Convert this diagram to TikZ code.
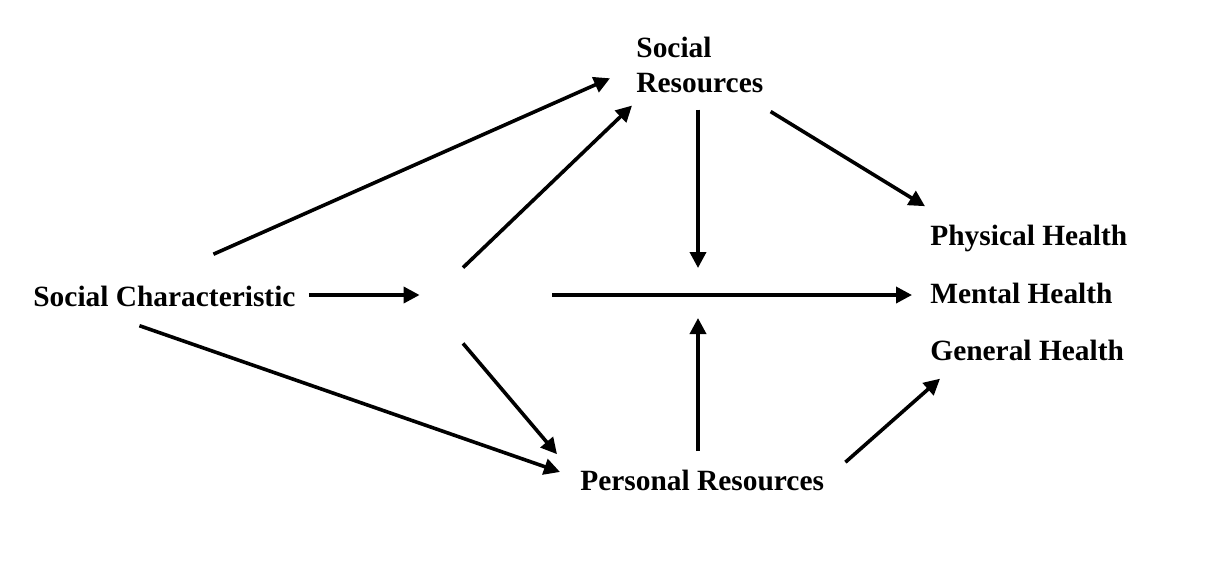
\documentclass[tikz,border=0pt]{standalone}
\usepackage{fontspec}
\setmainfont{Liberation Serif}
\usetikzlibrary{arrows.meta,calc}

\tikzset{
  factor/.style={font=\fontsize{14.7}{17.5}\selectfont\bfseries, inner sep=0pt},
  link/.style={line width=1.8pt, -{Triangle[length=8pt,width=8pt]}},
}

\begin{document}
\begin{tikzpicture}[x=0.5pt, y=-0.5pt]
    \useasboundingbox (0,0) rectangle (1230,575);

    % the factors
    \node[factor, anchor=base west] (sc) at (33,306) {Social Characteristic};
    \node[factor, anchor=north west, align=left] (sr) at (636,37) {Social\\Resources};
    \node[factor, anchor=base west] (pr) at (580,490) {Personal Resources};
    \node[factor, anchor=base west] (ph) at (930,245) {Physical Health};
    \node[factor, anchor=base west] (mh) at (930,303) {Mental Health};
    \node[factor, anchor=base west] (gh) at (930,360) {General Health};

    % empty junction in the middle and the point where the moderators meet the main path
    \node[inner sep=0pt, minimum width=66pt, minimum height=0pt] (hub) at (486,295) {};
    \coordinate (jn) at (698,295);

    % direct paths
    \draw[link] ($(sc.north)+(49,-31)$) -- ($(sr.west)+(-26,13)$);
    \draw[link] ($(sc.east |- hub)+(13,0)$) -- (hub.west);
    \draw[link] ($(sc.south)+(-25,19)$) -- ($(pr.west)+(-20,-8)$);

    % from the junction
    \draw[link] ($(hub.north)+(-23,-27)$) -- ($(sr.south west)+(-4,12)$);
    \draw[link] ($(hub.south)+(-23,48)$) -- ($(pr.north west)+(-23,-15)$);
    \draw[link] (hub.east) -- ($(hub.east -| mh.west)+(-18,0)$);

    % resources acting on the main path
    \draw[link] ($(sr.south west)+(62,16)$) -- ($(jn)+(0,-27)$);
    \draw[link] ($(pr.north west)+(118,-18)$) -- ($(jn)+(0,23)$);

    % resources to health outcomes
    \draw[link] ($(sr.south east)+(7,18)$) -- ($(ph.north west)+(-5,-18)$);
    \draw[link] ($(pr.north east)+(21,-7)$) -- ($(gh.south west)+(10,18)$);
\end{tikzpicture}
\end{document}
